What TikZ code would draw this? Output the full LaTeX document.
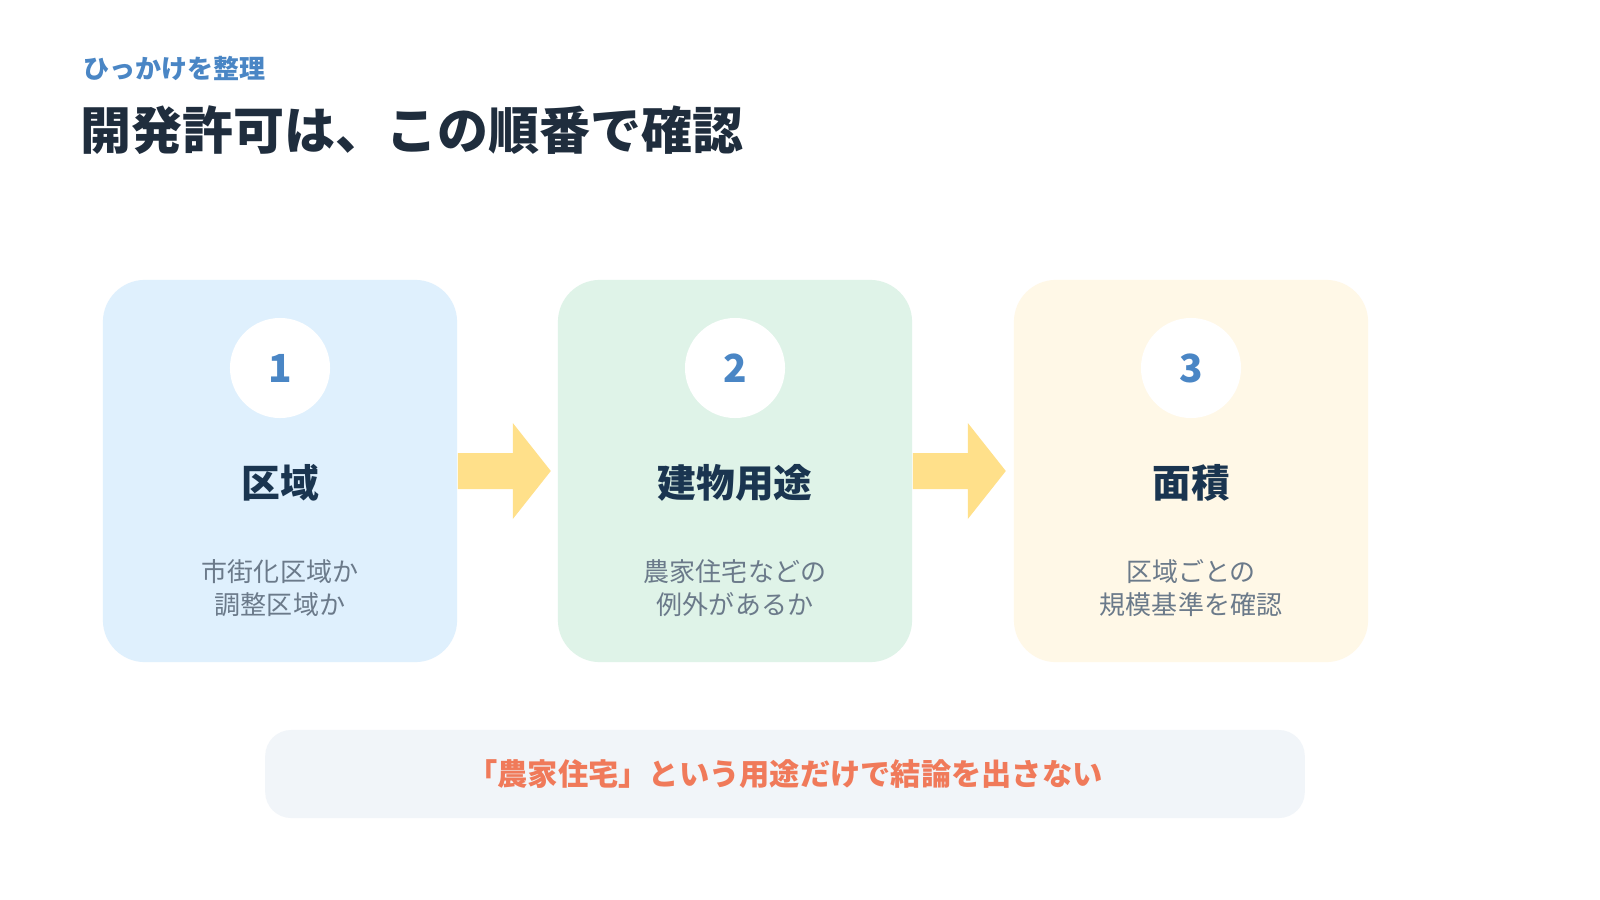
\documentclass[tikz,border=0pt]{standalone}
\usepackage{fontspec}
\setmainfont{Noto Sans CJK JP}
\usetikzlibrary{positioning}
\definecolor{accentblue}{HTML}{4A86C5}
\definecolor{titleink}{HTML}{1F2D3D}
\definecolor{headink}{HTML}{1A3550}
\definecolor{descink}{HTML}{6B7A8A}
\definecolor{boxblue}{HTML}{DFF0FD}
\definecolor{boxgreen}{HTML}{DFF3E8}
\definecolor{boxyellow}{HTML}{FFF8E7}
\definecolor{flowarrow}{HTML}{FFE08A}
\definecolor{notebg}{HTML}{F1F5F9}
\definecolor{noteink}{HTML}{F07A5A}
\tikzset{
    stepbox/.style={draw=none, rounded corners=0.42cm, minimum width=3.54cm, minimum height=3.82cm},
    badge/.style={circle, fill=white, minimum size=1cm, inner sep=0pt, text=accentblue, font=\bfseries\fontsize{11}{12}\selectfont},
    head/.style={text=headink, font=\bfseries\fontsize{11}{13}\selectfont},
    desc/.style={text=descink, align=center, font=\fontsize{7.4}{9.2}\selectfont},
    flow/.style={fill=flowarrow}
}
\begin{document}
\begin{tikzpicture}[x=0.01cm, y=-0.01cm]
    \useasboundingbox (0,0) rectangle (1600,900);
    \fill[white] (0,0) rectangle (1600,900);

    \node[anchor=west, text=accentblue, font=\bfseries\fontsize{7.4}{9}\selectfont, inner sep=0pt] (sub) at (83,68) {ひっかけを整理};
    \node[anchor=west, text=titleink, font=\bfseries\fontsize{14.5}{17}\selectfont, inner sep=0pt] (title) at (80,130) {開発許可は、この順番で確認};

    % steps
    \node[stepbox, fill=boxblue] (s1) at (280,471) {};
    \node[stepbox, fill=boxgreen] (s2) at (735,471) {};
    \node[stepbox, fill=boxyellow] (s3) at (1191,471) {};

    \foreach \n/\x/\h/\d in {1/280/区域/{市街化区域か\\調整区域か},
                             2/735/建物用途/{農家住宅などの\\例外があるか},
                             3/1191/面積/{区域ごとの\\規模基準を確認}} {
        \node[badge] (b\n) at (\x,368) {\n};
        \node[head] (h\n) at (\x,483) {\h};
        \node[desc] (d\n) at (\x,588) {\d};
    }

    % arrows between steps
    \foreach \a/\b in {s1/s2, s2/s3} {
        \fill[flow] (\a.east) ++(0,-18) -- ++(55,0) -- ++(0,-30) -- ++(38,48)
            -- ++(-38,48) -- ++(0,-30) -- ++(-55,0) -- cycle;
    }

    % note
    \node[fill=notebg, rounded corners=0.26cm, minimum width=10.39cm, minimum height=0.88cm,
          text=noteink, font=\bfseries\fontsize{8.6}{10}\selectfont] (note) at (785,774)
          {「農家住宅」という用途だけで結論を出さない};
\end{tikzpicture}
\end{document}
